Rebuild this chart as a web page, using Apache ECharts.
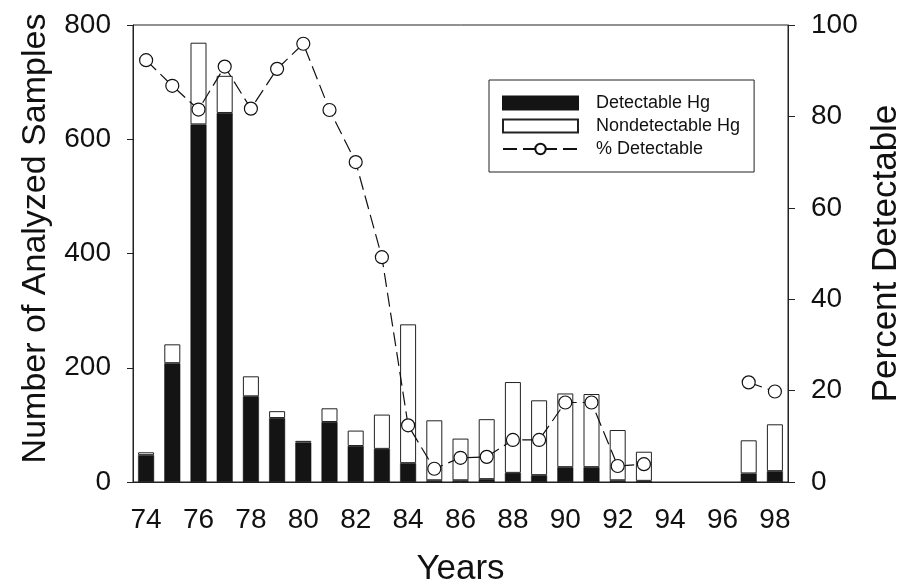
<!DOCTYPE html>
<html>
<head>
<meta charset="utf-8">
<script src="https://cdn.jsdelivr.net/npm/echarts@6/dist/echarts.min.js"></script>
<style>
  html, body { margin: 0; padding: 0; background: #fff; }
  #box1 { width: 905px; height: 585px; }
</style>
</head>
<body>
<div id="box1"></div>
<script>
var myChart = echarts.init(document.getElementById('box1'))

let years = ['74', '75', '76', '77', '78', '79', '80', '81', '82', '83', '84', '85', '86',
    '87', '88', '89', '90', '91', '92', '93', '94', '95', '96', '97', '98'];
let detectable = [47, 208, 626, 646, 150, 112, 69, 105, 63, 58, 33, 3, 3,
    5, 16, 12, 26, 26, 3, 2, null, null, null, 15, 19];
let nondetectable = [5, 33, 143, 65, 35, 12, 3, 24, 27, 60, 243, 105, 73,
    105, 159, 131, 129, 128, 88, 51, null, null, null, 58, 82];
let pctDetectable = [92.3, 86.7, 81.5, 90.9, 81.7, 90.4, 95.9, 81.4, 70.0, 49.2, 12.4, 2.9, 5.3,
    5.5, 9.2, 9.2, 17.4, 17.4, 3.5, 3.9, null, null, null, 21.8, 19.8];

let font = 'Liberation Sans, Arial, sans-serif';
let ink = '#111';

option = {
    animation: false,
    textStyle: { fontFamily: font, color: ink },
    grid: {
        left: 133,
        right: 117,
        top: 25,
        bottom: 103,
        outerBoundsMode: 'none',
        show: true,
        borderColor: '#222',
        borderWidth: 1
    },
    legend: {
        orient: 'vertical',
        left: 489,
        top: 80,
        padding: [14, 14, 14, 13],
        borderColor: '#222',
        borderWidth: 1,
        itemWidth: 75,
        itemHeight: 13,
        itemGap: 5,
        textStyle: { fontSize: 18, color: ink, fontFamily: font, padding: [0, 0, 0, 13] },
        data: [
            { name: 'Detectable Hg', icon: 'rect' },
            { name: 'Nondetectable Hg', icon: 'rect' },
            { name: '% Detectable' }
        ]
    },
    xAxis: {
        type: 'category',
        data: years,
        name: 'Years',
        nameLocation: 'middle',
        nameGap: 70,
        nameTextStyle: { fontSize: 35, color: ink },
        axisLine: { lineStyle: { color: '#222' } },
        axisTick: { interval: 1, alignWithLabel: true, length: 7, lineStyle: { color: '#222' } },
        axisLabel: { interval: 1, fontSize: 28, color: ink, margin: 24 },
        splitLine: { show: false }
    },
    yAxis: [
        {
            type: 'value',
            min: 0,
            max: 800,
            interval: 200,
            name: 'Number of Analyzed Samples',
            nameLocation: 'middle',
            nameGap: 80,
            nameTextStyle: { fontSize: 34, color: ink, padding: [0, 0, 0, 30] },
            axisLine: { show: true, lineStyle: { color: '#222' } },
            axisTick: { show: true, length: 6, lineStyle: { color: '#222' } },
            axisLabel: { fontSize: 28, color: ink, margin: 22 },
            splitLine: { show: false }
        },
        {
            type: 'value',
            min: 0,
            max: 100,
            interval: 20,
            name: 'Percent Detectable',
            nameLocation: 'middle',
            nameGap: 72,
            nameTextStyle: { fontSize: 35, color: ink },
            axisLine: { show: true, lineStyle: { color: '#222' } },
            axisTick: { show: true, length: 7, lineStyle: { color: '#222' } },
            axisLabel: { fontSize: 28, color: ink, margin: 23 },
            splitLine: { show: false }
        }
    ],
    series: [
        {
            name: 'Detectable Hg',
            type: 'bar',
            stack: 'samples',
            barWidth: 16,
            itemStyle: { color: '#141414', borderColor: '#141414', borderWidth: 0.5 },
            data: detectable
        },
        {
            name: 'Nondetectable Hg',
            type: 'bar',
            stack: 'samples',
            barWidth: 16,
            itemStyle: { color: '#fff', borderColor: '#222', borderWidth: 1 },
            data: nondetectable
        },
        {
            name: '% Detectable',
            type: 'line',
            yAxisIndex: 1,
            symbol: 'circle',
            symbolSize: 13,
            showAllSymbol: true,
            connectNulls: false,
            lineStyle: { color: '#111', width: 1.2, type: [14, 6] },
            itemStyle: { color: '#fff', borderColor: '#111', borderWidth: 1.2 },
            z: 5,
            data: pctDetectable
        }
    ]
};
myChart.setOption(option);
</script>
</body>
</html>
